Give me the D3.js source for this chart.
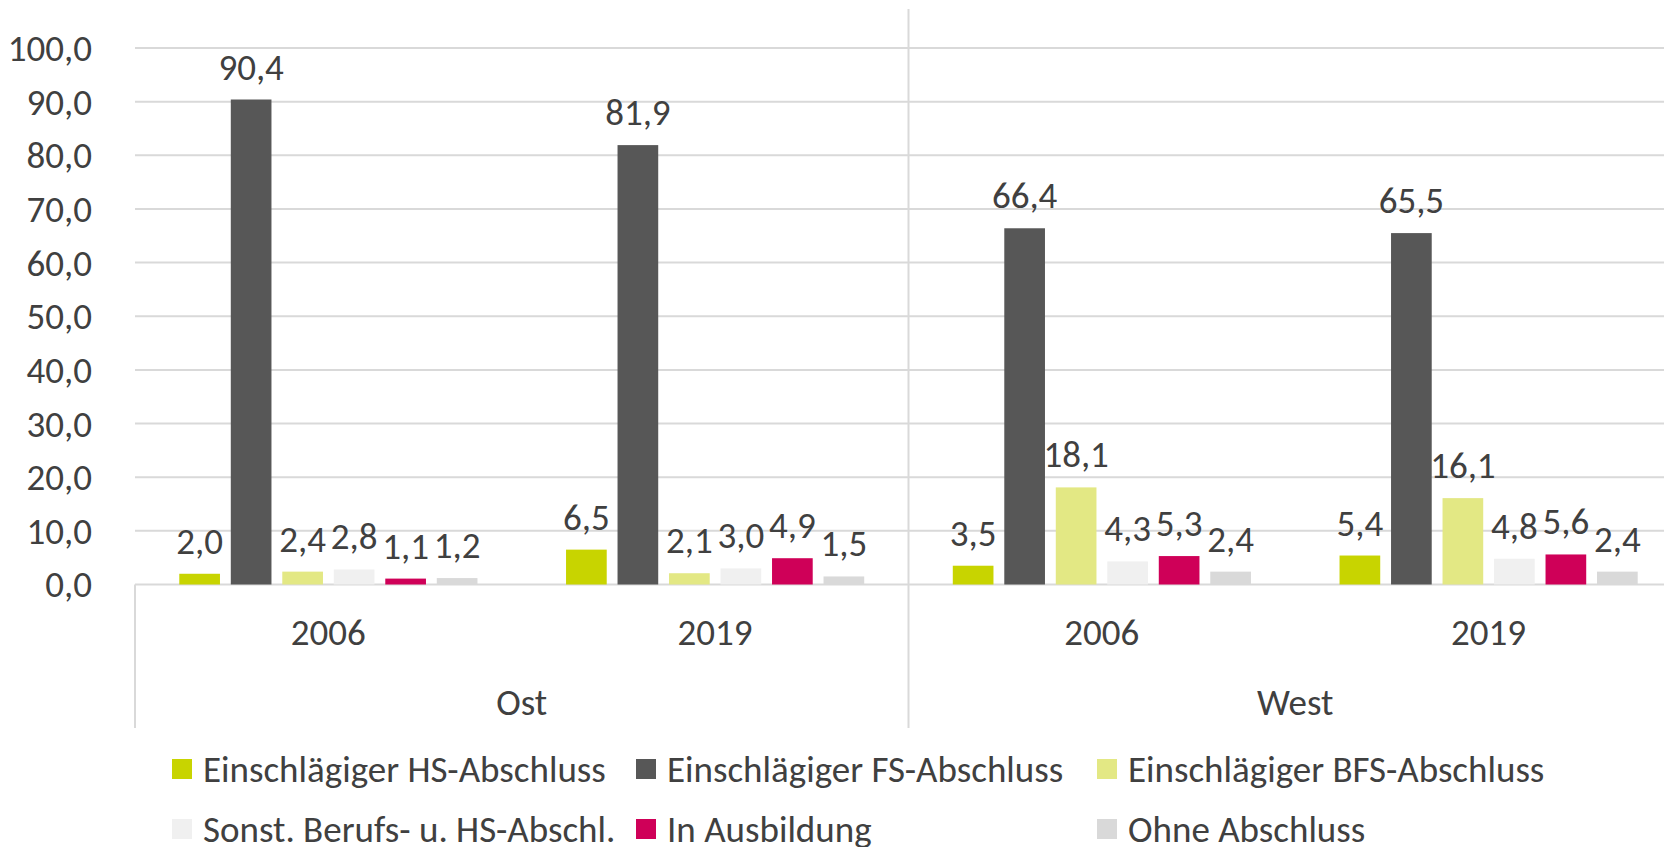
<!DOCTYPE html>
<html>
<head>
<meta charset="utf-8">
<script src="https://cdn.jsdelivr.net/npm/d3@7"></script>
<style>
  body { margin: 0; background: #fff; overflow: hidden; }
  svg { display: block; font-family: Carlito, Calibri, "Liberation Sans Narrow", "Open Sans", sans-serif; }
</style>
</head>
<body>
<div id="chart"></div>
<script>
// categories (two-level axis)
const regions = ["Ost", "West"];
const years = ["2006", "2019"];
const categories = ["Ost 2006", "Ost 2019", "West 2006", "West 2019"];

// series
const seriesNames = [
  "Einschlägiger HS-Abschluss",
  "Einschlägiger FS-Abschluss",
  "Einschlägiger BFS-Abschluss",
  "Sonst. Berufs- u. HS-Abschl.",
  "In Ausbildung",
  "Ohne Abschluss"
];
const hsValues = [2.0, 6.5, 3.5, 5.4];
const fsValues = [90.4, 81.9, 66.4, 65.5];
const bfsValues = [2.4, 2.1, 18.1, 16.1];
const sonstValues = [2.8, 3.0, 4.3, 4.8];
const ausbildungValues = [1.1, 4.9, 5.3, 5.6];
const ohneValues = [1.2, 1.5, 2.4, 2.4];
const seriesValues = [hsValues, fsValues, bfsValues, sonstValues, ausbildungValues, ohneValues];
const colors = ["#c8d400", "#575757", "#e3e884", "#f0f0f0", "#cf0058", "#d9d9d9"];

const yTicks = [0, 10, 20, 30, 40, 50, 60, 70, 80, 90, 100];

const svgWidth = 1664;
const svgHeight = 847;
const margin = { top: 48, left: 135, right: -18, bottom: 263 };
const fmt = (v) => v.toFixed(1).replace(".", ",");
const textColor = "#404040";
const gridColor = "#d9d9d9";
const fontSize = 37;

const svg = d3.select("#chart").append("svg")
  .attr("width", svgWidth)
  .attr("height", svgHeight);

const x0 = d3.scaleBand()
  .domain(categories)
  .range([margin.left, svgWidth - margin.right])
  .paddingInner(0)
  .paddingOuter(0);

const x1 = d3.scaleBand()
  .domain(seriesNames)
  .range([0, x0.bandwidth()])
  .paddingInner(0.21)
  .paddingOuter(0.86);

const y = d3.scaleLinear()
  .domain([0, 100])
  .range([584.5, margin.top]);

// gridlines
svg.append("g")
  .selectAll("line")
  .data(yTicks)
  .join("line")
  .attr("x1", margin.left)
  .attr("x2", svgWidth - margin.right)
  .attr("y1", (d) => y(d))
  .attr("y2", (d) => y(d))
  .attr("stroke", gridColor)
  .attr("stroke-width", 2);

// y axis labels
svg.append("g")
  .selectAll("text")
  .data(yTicks)
  .join("text")
  .attr("x", 92)
  .attr("y", (d) => y(d))
  .attr("dy", "0.35em")
  .attr("text-anchor", "end")
  .attr("fill", textColor)
  .style("font-size", fontSize + "px")
  .text(fmt);

// region separators of the two-level axis
const regionWidth = x0.bandwidth() * 2;
const sepX = regions.map((r, i) => margin.left + i * regionWidth).concat([margin.left + 2 * regionWidth]);
svg.append("g")
  .selectAll("line")
  .data(sepX)
  .join("line")
  .attr("x1", (d) => d)
  .attr("x2", (d) => d)
  .attr("y1", (d, i) => (i === 0 ? y(0) : 9))
  .attr("y2", 728)
  .attr("stroke", gridColor)
  .attr("stroke-width", 2);

// bars
categories.forEach((cat, ci) => {
  const g = svg.append("g").attr("transform", `translate(${x0(cat)},0)`);
  seriesNames.forEach((s, si) => {
    const v = seriesValues[si][ci];
    g.append("rect")
      .attr("x", x1(s))
      .attr("y", y(v))
      .attr("width", x1.bandwidth())
      .attr("height", y(0) - y(v))
      .attr("fill", colors[si]);
    g.append("text")
      .attr("x", x1(s) + x1.bandwidth() / 2)
      .attr("y", y(v) - 20)
      .attr("text-anchor", "middle")
      .attr("fill", textColor)
      .style("font-size", fontSize + "px")
      .text(fmt(v));
  });
  // year label
  svg.append("text")
    .attr("x", x0(cat) + x0.bandwidth() / 2)
    .attr("y", 645)
    .attr("text-anchor", "middle")
    .attr("fill", textColor)
    .style("font-size", fontSize + "px")
    .text(years[ci % 2]);
});

// region labels
regions.forEach((r, i) => {
  svg.append("text")
    .attr("x", margin.left + i * regionWidth + regionWidth / 2)
    .attr("y", 715)
    .attr("text-anchor", "middle")
    .attr("fill", textColor)
    .style("font-size", fontSize + "px")
    .text(r);
});

// legend
const legendCols = [172, 636, 1097];
const legendRows = [769, 829];
const legend = svg.append("g");
seriesNames.forEach((s, i) => {
  const lx = legendCols[i % 3];
  const ly = legendRows[Math.floor(i / 3)];
  legend.append("rect")
    .attr("x", lx)
    .attr("y", ly - 10)
    .attr("width", 20)
    .attr("height", 20)
    .attr("fill", colors[i]);
  legend.append("text")
    .attr("x", lx + 31)
    .attr("y", ly)
    .attr("dy", "0.35em")
    .attr("fill", textColor)
    .style("font-size", fontSize + "px")
    .text(s);
});
</script>
</body>
</html>
